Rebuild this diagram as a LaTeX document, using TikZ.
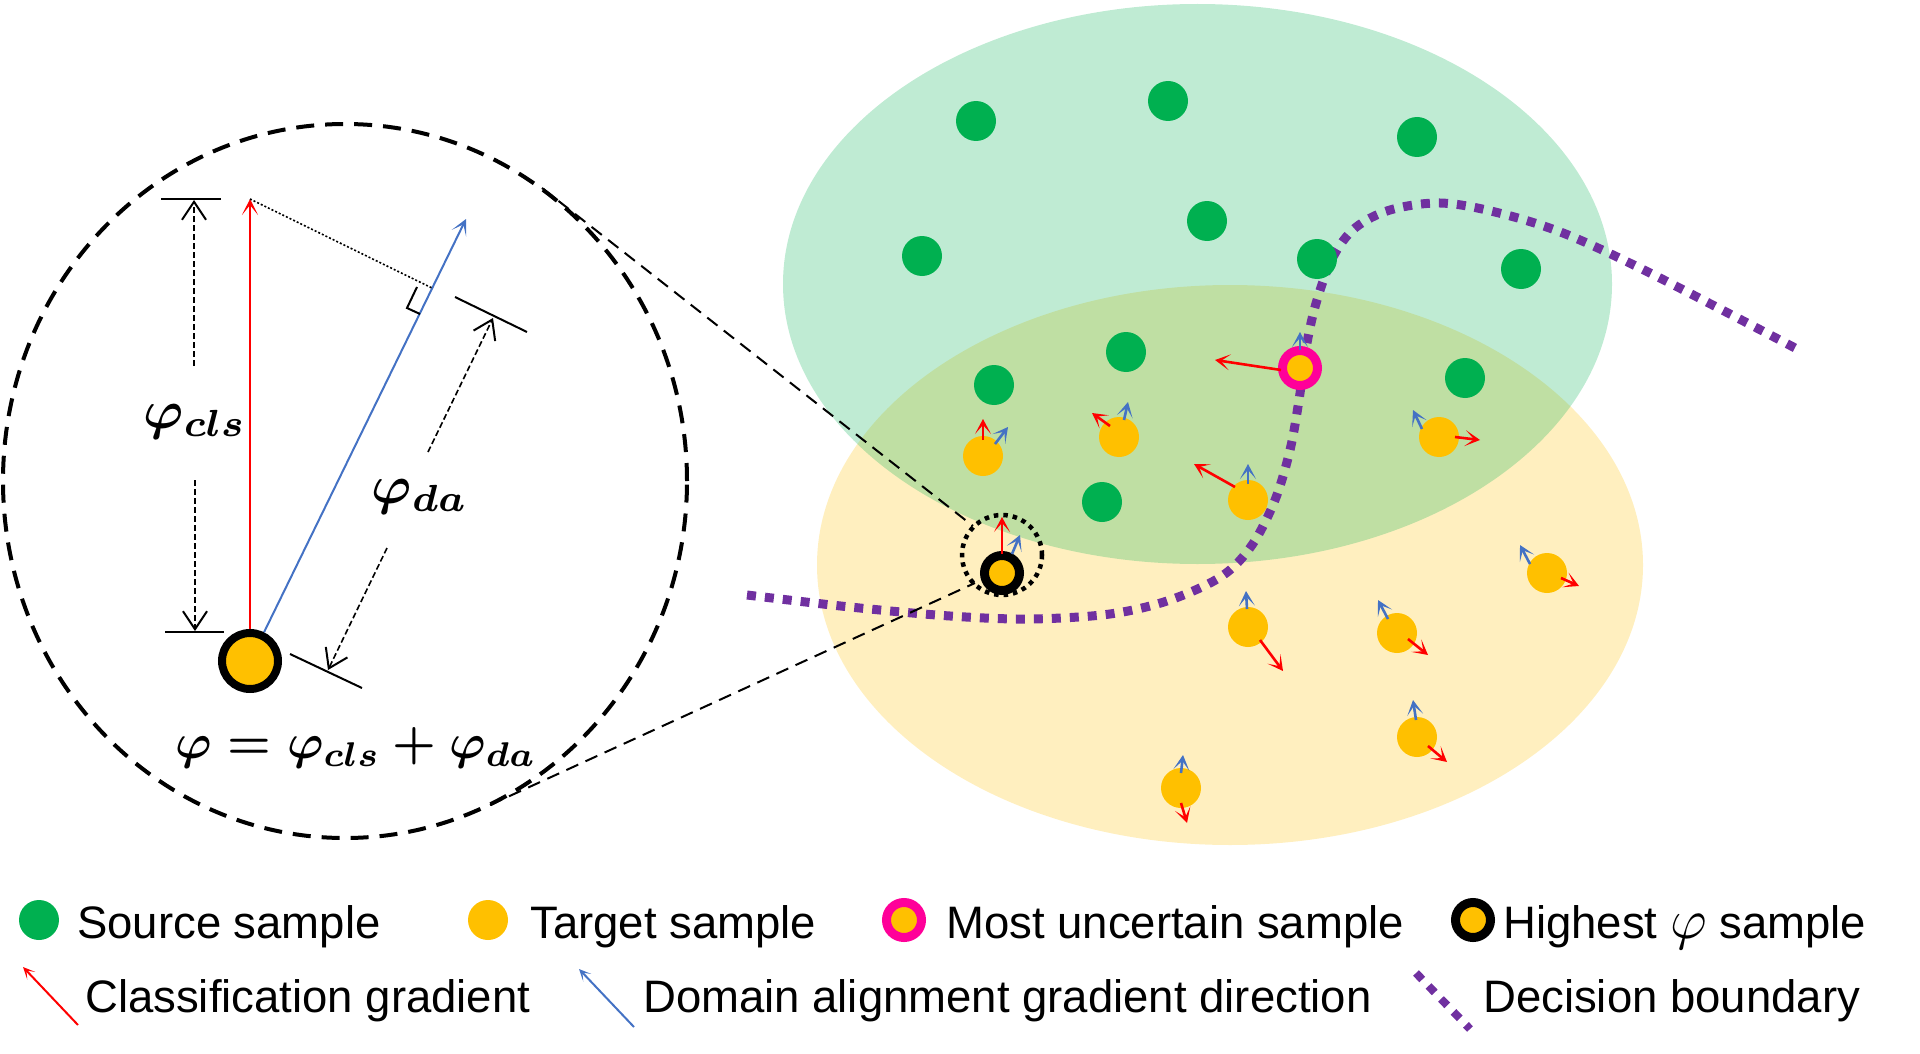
\documentclass[tikz,border=0pt]{standalone}
\usepackage{amsmath}
\usepackage{graphicx}
\usepackage{fontspec}
\setmainfont{Liberation Sans}
\usetikzlibrary{arrows.meta}
\definecolor{srcg}{HTML}{00B050}
\definecolor{tgty}{HTML}{FFC000}
\definecolor{pinkc}{HTML}{FF0099}
\definecolor{purp}{HTML}{7030A0}
\definecolor{bluec}{HTML}{4472C4}
\definecolor{redc}{HTML}{FF0000}
\newcommand{\bigmath}[2]{{\fontsize{10}{12}\selectfont\scalebox{#1}{#2}}}
\tikzset{
  src/.style={circle, fill=srcg, minimum size=40pt, inner sep=0pt},
  tgt/.style={circle, fill=tgty, minimum size=40pt, inner sep=0pt},
  unc/.style={circle, fill=tgty, draw=pinkc, line width=9pt, minimum size=35pt, inner sep=0pt},
  hig/.style={circle, fill=tgty, draw=black, line width=9pt, minimum size=35pt, inner sep=0pt},
  garrow/.style={line width=2.6pt, -{Stealth[length=15pt,width=16pt,inset=9pt]}},
  redg/.style={garrow, draw=redc},
  blueg/.style={garrow, draw=bluec},
  legarrow/.style={line width=2pt, -{Stealth[length=12pt,width=11pt,inset=7pt]}},
  dimline/.style={line width=1.6pt, dash pattern=on 6pt off 3pt, -{Straight Barb[length=18pt,width=24pt,line width=2pt]}},
  dimbar/.style={line width=2pt},
  boundary/.style={purp, line width=9pt, dash pattern=on 9pt off 9pt},
  zoomline/.style={line width=2pt, dash pattern=on 13pt off 8pt},
  legtxt/.style={font=\fontsize{45.5}{55}\selectfont, inner sep=0pt, anchor=base west},
  mathlbl/.style={inner sep=0pt},
}
\begin{document}
\begin{tikzpicture}[x=1pt,y=-1pt]
\useasboundingbox (0,0) rectangle (1920,1054);
% domains
\fill[tgty, opacity=0.25] (1230,565) ellipse [x radius=413pt, y radius=280pt];
\fill[srcg, opacity=0.25] (1197.5,284) ellipse [x radius=414.5pt, y radius=280pt];
% decision boundary
\draw[boundary] plot[smooth, tension=0.55] coordinates {(747,595) (850,607) (950,616) (1030,619) (1110,614) (1170,600) (1222,576) (1252,545) (1275,500) (1290,450) (1299,400) (1307,343) (1317,300) (1333,257) (1355,228) (1390,210) (1440,203) (1495,212) (1563,233) (1650,273) (1797,349)};
% zoom lines
\coordinate (zA1) at (542,188);
\coordinate (zA2) at (973,526);
\coordinate (zB1) at (490,805);
\coordinate (zB2) at (975,583);
\draw[zoomline] (zA1) -- (zA2);
\draw[zoomline] (zB1) -- (zB2);
% big zoom circle
\draw[line width=4pt, dash pattern=on 18pt off 11pt] (345,481) ellipse [x radius=342pt, y radius=357pt];
% source samples
\node[src] (s1) at (976,121) {};
\node[src] (s2) at (1168,101) {};
\node[src] (s3) at (922,256) {};
\node[src] (s4) at (1207,221) {};
\node[src] (s5) at (1417,137) {};
\node[src] (s6) at (1317,259) {};
\node[src] (s7) at (1521,269) {};
\node[src] (s8) at (994,385) {};
\node[src] (s9) at (1126,352) {};
\node[src] (s10) at (1465,378) {};
\node[src] (s11) at (1102,502) {};
% target samples
\node[tgt] (ta) at (983,456) {};
\node[tgt] (tb) at (1119,437) {};
\node[tgt] (tc) at (1439,437) {};
\node[tgt] (td) at (1248,500) {};
\node[tgt] (te) at (1248,627) {};
\node[tgt] (tf) at (1397,633) {};
\node[tgt] (tg) at (1547,573) {};
\node[tgt] (th) at (1417,737) {};
\node[tgt] (ti) at (1181,788) {};
\node[unc] (tu) at (1300,368) {};
\node[hig] (tx) at (1002,573) {};
\node[circle, draw, line width=4.5pt, dash pattern=on 4.5pt off 5pt, minimum size=80pt, inner sep=0pt] (hl) at (1002,555) {};
% gradients
\draw[redg] (983,440) -- (983,419);
\draw[blueg] (995,444) -- (1008,427);
\draw[redg] (1110,426) -- (1092,413);
\draw[blueg] (1124,420) -- (1128,402);
\draw[blueg] (1422,429) -- (1413,410);
\draw[redg] (1455,437) -- (1480,440);
\draw[redg] (1235,487) -- (1194,464);
\draw[blueg] (1248,484) -- (1248,464);
\draw[blueg] (1247,609) -- (1246,591);
\draw[redg] (1260,640) -- (1283,671);
\draw[blueg] (1388,619) -- (1378,600);
\draw[redg] (1408,639) -- (1428,655);
\draw[blueg] (1530,564) -- (1520,545);
\draw[redg] (1561,578) -- (1579,586);
\draw[blueg] (1416,720) -- (1413,700);
\draw[redg] (1428,746) -- (1447,762);
\draw[blueg] (1181,773) -- (1183,755);
\draw[redg] (1181,803) -- (1187,823);
\draw[redg] (1281,370) -- (1215,360);
\draw[blueg] (1300,350) -- (1300,332);
\draw[redg] (1002,554) -- (1002,517);
\draw[blueg] (1012,554) -- (1020,535);
% zoomed view
\node[circle, fill=tgty, draw=black, line width=8pt, minimum size=56pt, inner sep=0pt] (ball) at (250,661) {};
\coordinate (ctip) at (250,199);
\coordinate (dtip) at (466,219);
\coordinate (foot) at (432,288);
\draw[redc, line width=2pt, -{Stealth[length=16pt,width=16pt,inset=10pt]}] (ball.north) -- (ctip);
\draw[bluec, line width=2pt, -{Stealth[length=16pt,width=16pt,inset=10pt]}] (ball.64) -- (dtip);
\draw[line width=1.6pt, dash pattern=on 2pt off 2pt] (ctip) -- (foot);
\draw[line width=2pt] (420,314) -- (407,308) -- (417,287);
% cls dimension
\draw[dimbar] (161,199) -- (221,199);
\draw[dimbar] (165,632) -- (224,632);
\draw[dimline] (194,366) -- (194,200);
\draw[dimline] (195,480) -- (195,631);
% da dimension
\draw[dimbar] (455,297) -- (527,332);
\draw[dimbar] (290,654) -- (362,688);
\draw[dimline] (428,452) -- (493,318);
\draw[dimline] (387,548) -- (328,670);
\node[mathlbl] (lcls) at (195,422) {\bigmath{5.4}{\boldmath$\varphi_{cls}$}};
\node[mathlbl] (lda) at (420,497) {\bigmath{5.4}{\boldmath$\varphi_{da}$}};
\node[mathlbl] (formula) at (356,748) {\bigmath{4.9}{\boldmath$\varphi = \varphi_{cls} + \varphi_{da}$}};
% legend row 1
\node[src] (lg1) at (39,920) {};
\node[legtxt] (lt1) at (77,938) {Source sample};
\node[tgt] (lg2) at (488,920) {};
\node[legtxt] (lt2) at (530,938) {Target sample};
\node[unc] (lg3) at (904,920) {};
\node[legtxt] (lt3) at (946,938) {Most uncertain sample};
\node[hig] (lg4) at (1473,920) {};
\node[legtxt] (lt4) at (1503,938) {Highest \bigmath{5.6}{$\varphi$} sample};
% legend row 2
\coordinate (la1) at (78,1025);
\coordinate (la2) at (23,967);
\draw[legarrow, redc] (la1) -- (la2);
\node[legtxt] (lt5) at (85,1012) {Classification gradient};
\coordinate (lb1) at (634,1027);
\coordinate (lb2) at (579,969);
\draw[legarrow, bluec] (lb1) -- (lb2);
\node[legtxt] (lt6) at (643,1012) {Domain alignment gradient direction};
\coordinate (lc1) at (1416,973);
\coordinate (lc2) at (1470,1029);
\draw[boundary, line width=8pt] (lc1) -- (lc2);
\node[legtxt] (lt7) at (1483,1012) {Decision boundary};
\end{tikzpicture}
\end{document}
